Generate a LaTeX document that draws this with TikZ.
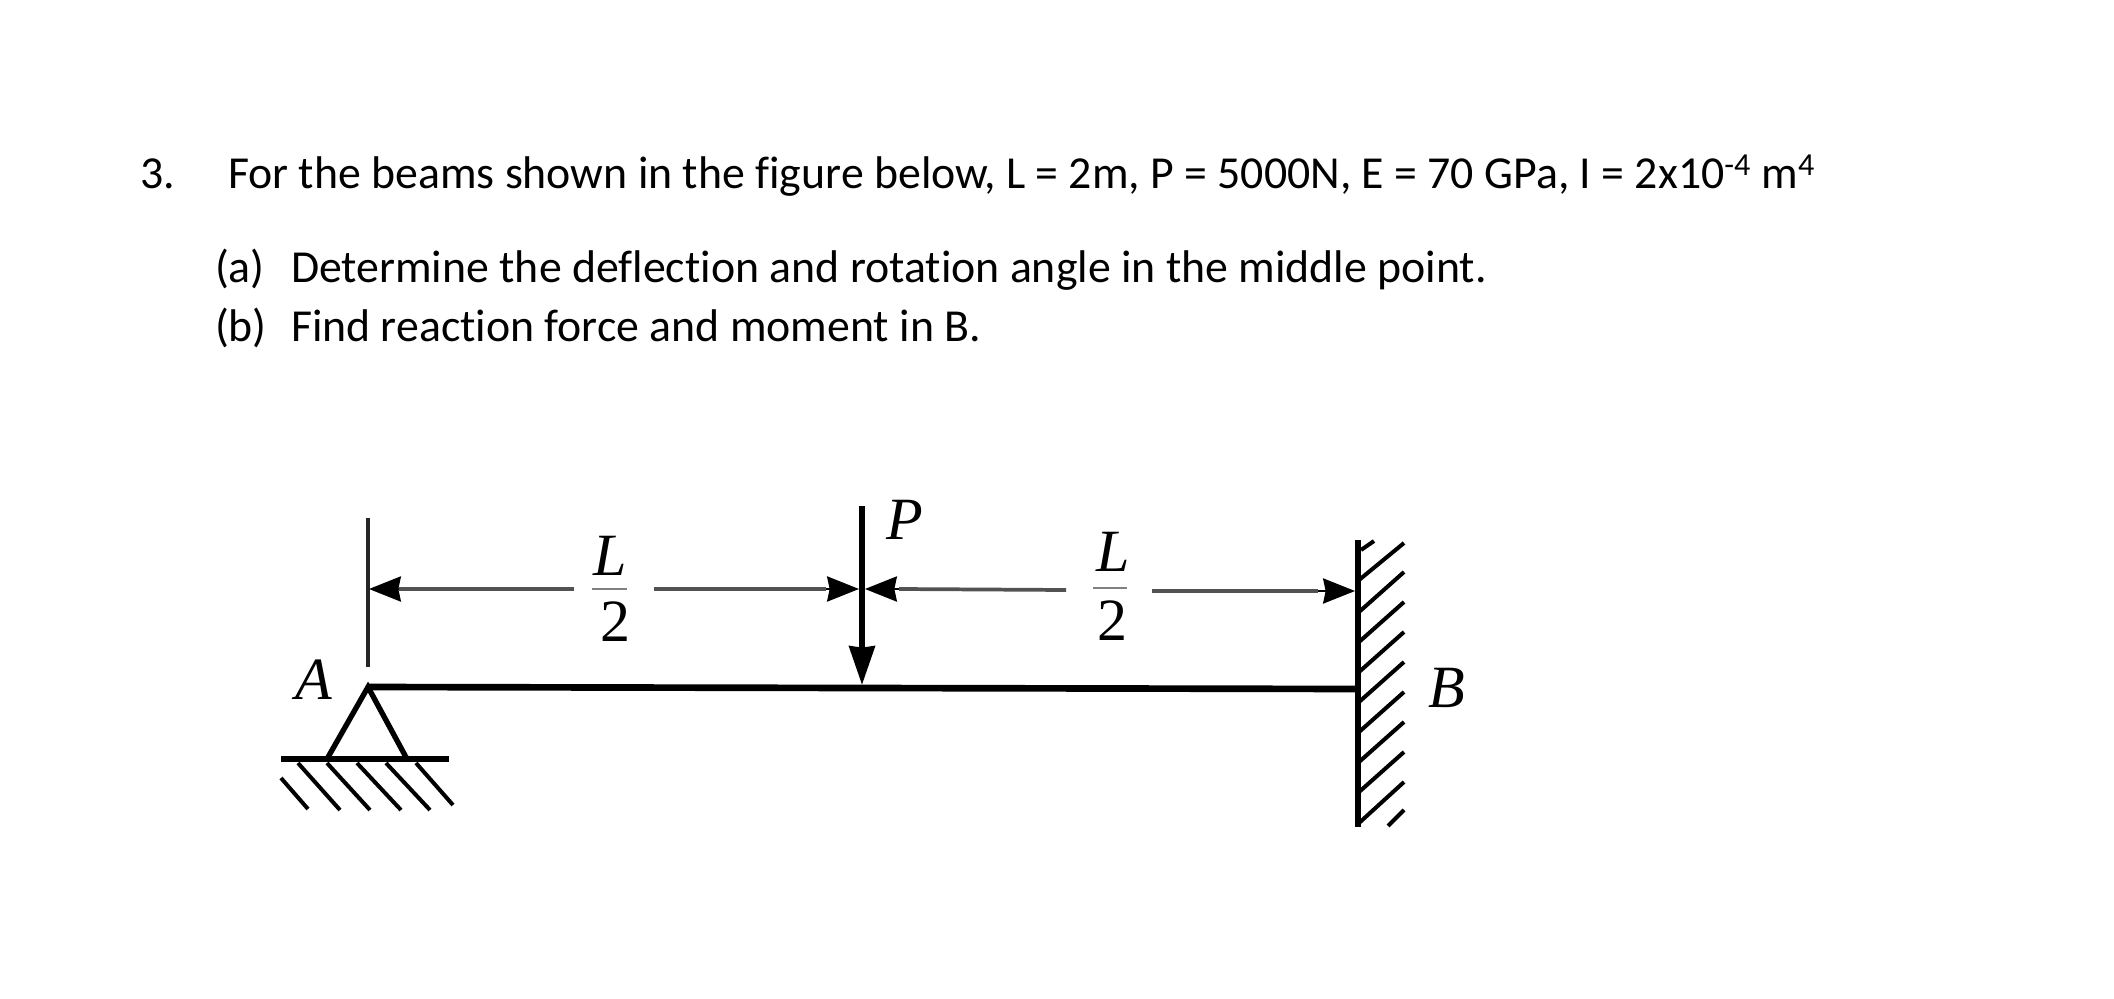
\documentclass[tikz,border=0pt]{standalone}
\usepackage{fontspec}
\setmainfont{Carlito}[RawFeature={-liga;-clig;-dlig}]
\newfontfamily\beamfont{Liberation Serif}
\usetikzlibrary{arrows.meta}
\tikzset{
  x=0.75pt,y=-0.75pt,
  bodytext/.style={anchor=base west,inner sep=0,outer sep=0,font=\fontsize{34.35}{41}\selectfont},
  figit/.style={inner sep=0,outer sep=0,font=\beamfont\itshape\fontsize{45}{50}\selectfont},
  fignum/.style={inner sep=0,outer sep=0,font=\beamfont\fontsize{45}{50}\selectfont},
  dimline/.style={line width=2.8pt,draw=black!68},
  dimtip/.style={-{Stealth[length=24pt,width=19pt,inset=2pt]},black},
  fracbar/.style={line width=1.8pt,draw=black!50},
  thick beam/.style={line width=5pt,black},
  support/.style={line width=4pt,black},
  hatchline/.style={line width=3pt,black},
}
\begin{document}
\begin{tikzpicture}
\useasboundingbox[fill=white] (0,0) rectangle (2114,999);
% text
\node[bodytext] (num) at (140,188) {3.};
\node[bodytext] (line1) at (228,188) {For the beams shown in the figure below, L = 2m, P = 5000N, E = 70 GPa, I = 2x10\textsuperscript{-4} m\textsuperscript{4}};
\node[bodytext] (aa) at (215,282) {(a)};
\node[bodytext] (atext) at (291,282) {Determine the deflection and rotation angle in the middle point.};
\node[bodytext] (bb) at (215,341) {(b)};
\node[bodytext] (btext) at (291,341) {Find reaction force and moment in B.};
% key points
\coordinate (apex) at (368,687);
\coordinate (wallpt) at (1358,689);
\coordinate (load) at (862,685);
\coordinate (loadtop) at (862,506);
\coordinate (exttop) at (368,518);
\coordinate (extbot) at (368,667);
\coordinate (baseL) at (327,759);
\coordinate (baseR) at (407,759);
\coordinate (gndL) at (281,759);
\coordinate (gndR) at (449,759);
\coordinate (walltop) at (1358,540);
\coordinate (wallbot) at (1358,827);
% beam and wall
\draw[thick beam] (apex) -- (wallpt);
\draw[line width=4.6pt] (walltop) -- (wallbot);
\foreach \ya/\yb in {580/543,612/572,642/602,672/632,702/662,732/692,762/722,792/752,823/782}
  \draw[hatchline] (1359,\ya) -- (1404,\yb);
\draw[hatchline] (1361,550) -- (1374,541);
\draw[hatchline] (1388,826) -- (1404,810);
% support
\draw[support,line join=miter] (baseL) -- (apex) -- (baseR);
\draw[support] (gndL) -- (gndR);
\foreach \xa/\xb in {298/340,327/370,357/401,386/430}
  \draw[hatchline] (\xa,763) -- (\xb,810);
\draw[hatchline] (416,763) -- (453,805);
\draw[hatchline] (281,778) -- (308,809);
% extension and load
\draw[line width=2.8pt,black!85] (exttop) -- (extbot);
\draw[line width=4.4pt,-{Stealth[length=29pt,width=19pt,inset=1pt]}] (loadtop) -- (load);
% dimensions
\coordinate (d1t) at (369,589); \coordinate (d1e) at (574,589);
\coordinate (d2s) at (654,589); \coordinate (d2t) at (859,589);
\coordinate (d3t) at (865,589); \coordinate (d3e) at (1066,590);
\coordinate (d4s) at (1152,591); \coordinate (d4t) at (1355,591);
\draw[dimline] (d1e) -- (399,589);
\draw[dimtip,line width=1pt] (399,589) -- (d1t);
\draw[dimline] (d2s) -- (826,589);
\draw[dimtip,line width=1pt] (826,589) -- (d2t);
\draw[dimline] (d3e) -- (899,589);
\draw[dimtip,line width=1pt] (899,589) -- (d3t);
\draw[dimline] (d4s) -- (1318,591);
\draw[dimtip,line width=1pt] (1318,591) -- (d4t);
% fractions
\node[figit] (L1) at (610,556) {L};
\draw[fracbar] (592,589) -- (627,589);
\node[fignum] (two1) at (615,622) {2};
\node[figit] (L2) at (1113,552) {L};
\draw[fracbar] (1093,588) -- (1127,588);
\node[fignum] (two2) at (1112,621) {2};
% labels
\node[figit] (A) at (314,680) {A};
\node[figit] (P) at (905,520) {P};
\node[figit] (B) at (1447,688) {B};
\end{tikzpicture}
\end{document}
